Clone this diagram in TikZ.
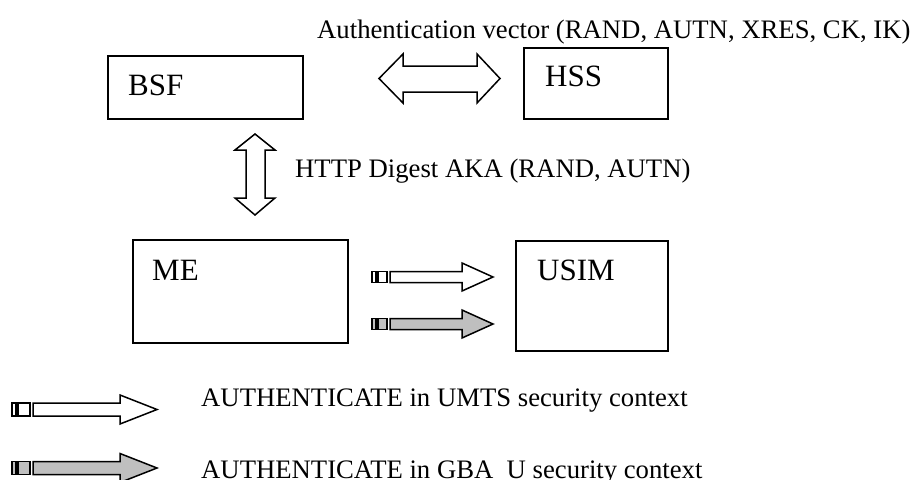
\documentclass[tikz,border=0pt]{standalone}
\usepackage{fontspec}
\setmainfont{Liberation Serif}
\begin{document}
\begin{tikzpicture}[x=1pt,y=-1pt,
  box/.style={draw=black,line width=2pt,fill=white,inner sep=0pt,anchor=north west},
  lbl/.style={inner sep=0pt,anchor=base west,font=\fontsize{26.7}{32}\selectfont},
  boxlbl/.style={inner sep=0pt,anchor=base west,font=\fontsize{31}{37}\selectfont},
  blk/.style={draw=black,line width=1.5pt,line join=miter,fill=white},
  blkgray/.style={blk,fill=black!25}]
\useasboundingbox (0,0) rectangle (912,479);

% boxes
\node[box,minimum width=195pt,minimum height=63pt] (bsf) at (107,55) {};
\node[box,minimum width=144pt,minimum height=71pt] (hss) at (523,47) {};
\node[box,minimum width=215pt,minimum height=103pt] (me) at (132,239) {};
\node[box,minimum width=152pt,minimum height=110pt] (usim) at (515,240) {};

\node[boxlbl] (bsft) at (128,95) {BSF};
\node[boxlbl] (hsst) at (545,86) {HSS};
\node[boxlbl] (met) at (152,280) {ME};
\node[boxlbl] (usimt) at (537,280) {USIM};

% BSF <-> HSS
\draw[blk] (379,78.5) -- (403,54) -- (403,66) -- (477,66) -- (477,54) -- (500,78.5)
  -- (477,103) -- (477,92) -- (403,92) -- (403,103) -- cycle;
\node[lbl] (av) at (317,38) {Authentication vector (RAND, AUTN, XRES, CK, IK)};

% BSF <-> ME
\draw[blk] (255,134) -- (275,150) -- (265,150) -- (265,198) -- (275,198) -- (255,215)
  -- (235,198) -- (246,198) -- (246,150) -- (235,150) -- cycle;
\node[lbl] (http) at (295,177) {HTTP Digest AKA (RAND, AUTN)};

% ME -> USIM
\foreach \yc/\st in {277/blk,324/blkgray}{
  \draw[\st,line width=1.3pt] (372,\yc-5.5) rectangle (376,\yc+5.5);
  \draw[\st,line width=1.3pt] (378,\yc-5.5) rectangle (387,\yc+5.5);
  \draw[\st] (390,\yc-5.5) -- (462,\yc-5.5) -- (462,\yc-14) -- (493,\yc)
    -- (462,\yc+14) -- (462,\yc+5.5) -- (390,\yc+5.5) -- cycle;
}

% legend
\foreach \yc/\st in {409.5/blk,468/blkgray}{
  \draw[\st,line width=1.3pt] (12,\yc-6.5) rectangle (16,\yc+6.5);
  \draw[\st,line width=1.3pt] (18,\yc-6.5) rectangle (30,\yc+6.5);
  \draw[\st] (33,\yc-6.5) -- (120,\yc-6.5) -- (120,\yc-14.5) -- (157,\yc)
    -- (120,\yc+14.5) -- (120,\yc+6.5) -- (33,\yc+6.5) -- cycle;
}
\node[lbl] (umts) at (201,406) {AUTHENTICATE in UMTS security context};
\node[lbl] (gba) at (201,478) {AUTHENTICATE in GBA\_U security context};
\end{tikzpicture}
\end{document}
